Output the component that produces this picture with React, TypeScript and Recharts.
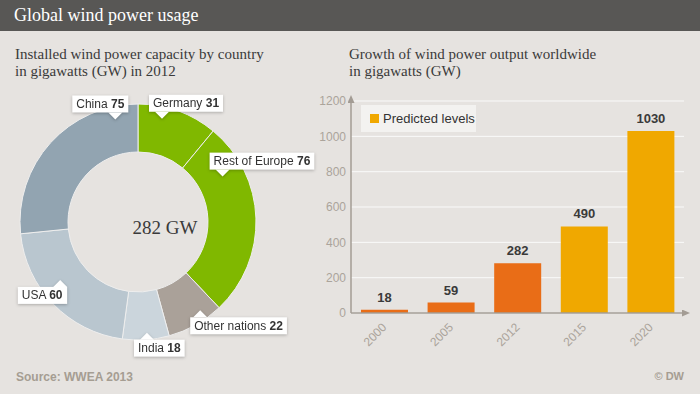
import {
  Bar,
  BarChart,
  CartesianGrid,
  Cell,
  Label,
  LabelList,
  Legend,
  Pie,
  PieChart,
  XAxis,
  YAxis,
} from "recharts";

const countries = ["Germany", "Rest of Europe", "Other nations", "India", "USA", "China"];
const capacity = [31, 76, 22, 18, 60, 75];

const years = ["2000", "2005", "2012", "2015", "2020"];
const output = [18, 59, 282, 490, 1030];
const predicted = [false, false, false, true, true];
const yTicks = [0, 200, 400, 600, 800, 1000, 1200];

const SANS = "'Liberation Sans', Arial, sans-serif";
const SERIF = "'Liberation Serif', Georgia, serif";

const sliceColors: Record<string, string> = {
  Germany: "#80b800",
  "Rest of Europe": "#80b800",
  "Other nations": "#aaa199",
  India: "#cbd5dc",
  USA: "#b9c6cf",
  China: "#92a4b1",
};

// where each callout sits: angle tweak from the slice middle, tip radius,
// box above/below the tip, pointer distance from box left (neg = from right)
const calloutLayout: Record<string, { shift: number; r: number; up: boolean; px: number }> = {
  Germany: { shift: 6.7, r: 106, up: true, px: 13 },
  "Rest of Europe": { shift: 26.3, r: 96, up: true, px: 13 },
  "Other nations": { shift: 5.8, r: 108, up: false, px: 10 },
  India: { shift: 0.8, r: 111, up: false, px: 13 },
  USA: { shift: -7.4, r: 97, up: false, px: -7 },
  China: { shift: -35.4, r: 105, up: true, px: -13 },
};

const pieData = countries.map((name, i) => ({ name, value: capacity[i] }));
const barData = years.map((year, i) => ({ year, value: output[i], predicted: predicted[i] }));
const total = capacity.reduce((a, b) => a + b, 0);

let ctx: CanvasRenderingContext2D | null = null;
function textWidth(s: string, font: string) {
  if (!ctx) ctx = document.createElement("canvas").getContext("2d");
  if (!ctx) return s.length * 7;
  ctx.font = font;
  return ctx.measureText(s).width;
}

function Callout(props: any) {
  const { cx, cy, midAngle, payload } = props;
  const name = payload.name as string;
  const value = String(payload.value);
  const cfg = calloutLayout[name];
  const a = ((midAngle + cfg.shift) * Math.PI) / 180;
  const tx = cx + cfg.r * Math.cos(a);
  const ty = cy - cfg.r * Math.sin(a);
  const w =
    textWidth(name + " ", `12px ${SANS}`) + textWidth(value, `bold 12px ${SANS}`) + 8;
  const h = 17;
  const bx = cfg.px > 0 ? tx - cfg.px : tx - w - cfg.px;
  const by = cfg.up ? ty - 7 - h : ty + 7;
  const baseY = cfg.up ? ty - 7 : ty + 7;
  return (
    <g style={{ filter: "drop-shadow(0px 1px 1.5px rgba(0,0,0,0.25))" }}>
      <rect x={bx} y={by} width={w} height={h} fill="#ffffff" />
      <polygon
        points={`${tx - 7},${baseY} ${tx + 7},${baseY} ${tx},${ty}`}
        fill="#ffffff"
      />
      <text x={bx + 4} y={by + 12.5} fontFamily={SANS} fontSize={12} fill="#333">
        <tspan>{name} </tspan>
        <tspan fontWeight="bold">{value}</tspan>
      </text>
    </g>
  );
}

function YearTick(props: any) {
  const { x, y, payload } = props;
  const px = x + 3;
  const py = y + 15;
  return (
    <text
      x={px}
      y={py}
      transform={`rotate(-45 ${px} ${py})`}
      textAnchor="end"
      fontFamily={SANS}
      fontSize={12}
      fill="#aba49b"
    >
      {payload.value}
    </text>
  );
}

function PredictedLegend() {
  return (
    <div
      style={{
        background: "#f3f2f0",
        width: 115,
        height: 27,
        boxSizing: "border-box",
        display: "flex",
        alignItems: "center",
        paddingLeft: 9,
        fontFamily: SANS,
        fontSize: 13,
        color: "#333",
      }}
    >
      <span style={{ width: 9, height: 9, background: "#f0a800", marginRight: 4 }} />
      Predicted levels
    </div>
  );
}

export default function App() {
  return (
    <div
      style={{
        position: "fixed",
        left: 0,
        top: 0,
        width: 700,
        height: 394,
        background: "#e6e3e0",
        overflow: "hidden",
      }}
    >
      <div
        style={{
          height: 31,
          background: "#585755",
          color: "#fff",
          fontFamily: SERIF,
          fontSize: 18,
          lineHeight: "31px",
          paddingLeft: 14,
        }}
      >
        Global wind power usage
      </div>
      <div
        style={{
          position: "absolute",
          left: 15,
          top: 46,
          fontFamily: SERIF,
          fontSize: 15,
          lineHeight: "17px",
          color: "#3a3a3a",
        }}
      >
        Installed wind power capacity by country
        <br />
        in gigawatts (GW) in 2012
      </div>
      <div
        style={{
          position: "absolute",
          left: 349,
          top: 46,
          fontFamily: SERIF,
          fontSize: 15,
          lineHeight: "17px",
          color: "#3a3a3a",
        }}
      >
        Growth of wind power output worldwide
        <br />
        in gigawatts (GW)
      </div>

      <div style={{ position: "absolute", left: 300, top: 85 }}>
        <BarChart
          width={400}
          height={300}
          data={barData}
          margin={{ top: 16, right: 16, bottom: 12, left: 0 }}
          barCategoryGap="15%"
        >
          <defs>
            <marker
              id="axisArrow"
              viewBox="0 0 8 7"
              refX={2}
              refY={3.5}
              markerWidth={8}
              markerHeight={7}
              markerUnits="userSpaceOnUse"
              orient="auto-start-reverse"
            >
              <path d="M0,0 L8,3.5 L0,7 z" fill="#a39c94" />
            </marker>
          </defs>
          <CartesianGrid vertical={false} stroke="#fafafa" strokeWidth={1} />
          <XAxis
            dataKey="year"
            interval={0}
            tickLine={false}
            tickSize={0}
            tickMargin={0}
            height={60}
            tick={<YearTick />}
            axisLine={{ stroke: "#a39c94", strokeWidth: 1.5, markerEnd: "url(#axisArrow)" }}
          />
          <YAxis
            domain={[0, 1200]}
            ticks={yTicks}
            interval={0}
            width={51}
            tickLine={false}
            tickSize={0}
            tickMargin={5}
            tick={{ fontSize: 12, fontFamily: SANS, fill: "#aba49b" }}
            axisLine={{ stroke: "#a39c94", strokeWidth: 1.5, markerStart: "url(#axisArrow)" }}
          />
          <Legend
            layout="horizontal"
            verticalAlign="middle"
            align="center"
            wrapperStyle={{ left: 61, top: 20, width: 115, height: 27 }}
            content={<PredictedLegend />}
          />
          <Bar dataKey="value" isAnimationActive={false}>
            {barData.map((d) => (
              <Cell key={d.year} fill={d.predicted ? "#f0a800" : "#e96d17"} />
            ))}
            <LabelList
              dataKey="value"
              position="top"
              offset={8}
              fill="#3a3a3a"
              fontFamily={SANS}
              fontSize={13}
              fontWeight="bold"
            />
          </Bar>
        </BarChart>
      </div>

      <div style={{ position: "absolute", left: 0, top: 85 }}>
        <PieChart width={330} height={285} margin={{ top: 0, right: 0, bottom: 0, left: 0 }}>
          <Pie
            data={pieData}
            dataKey="value"
            nameKey="name"
            cx={138}
            cy={137}
            innerRadius={70}
            outerRadius={118}
            startAngle={90}
            endAngle={-270}
            stroke="#eeeeee"
            strokeWidth={1}
            label={Callout}
            labelLine={false}
            isAnimationActive={false}
          >
            {pieData.map((d) => (
              <Cell key={d.name} fill={sliceColors[d.name]} />
            ))}
            <Label
              value={`${total} GW`}
              position="center"
              fill="#3a3a3a"
              fontFamily={SERIF}
              fontSize={19}
            />
          </Pie>
        </PieChart>
      </div>

      <div
        style={{
          position: "absolute",
          left: 16,
          top: 370,
          fontFamily: SANS,
          fontSize: 12,
          fontWeight: "bold",
          color: "#a59d92",
        }}
      >
        Source: WWEA 2013
      </div>
      <div
        style={{
          position: "absolute",
          right: 16,
          top: 370,
          fontFamily: SANS,
          fontSize: 11,
          fontWeight: "bold",
          color: "#a59d92",
        }}
      >
        © DW
      </div>
    </div>
  );
}
